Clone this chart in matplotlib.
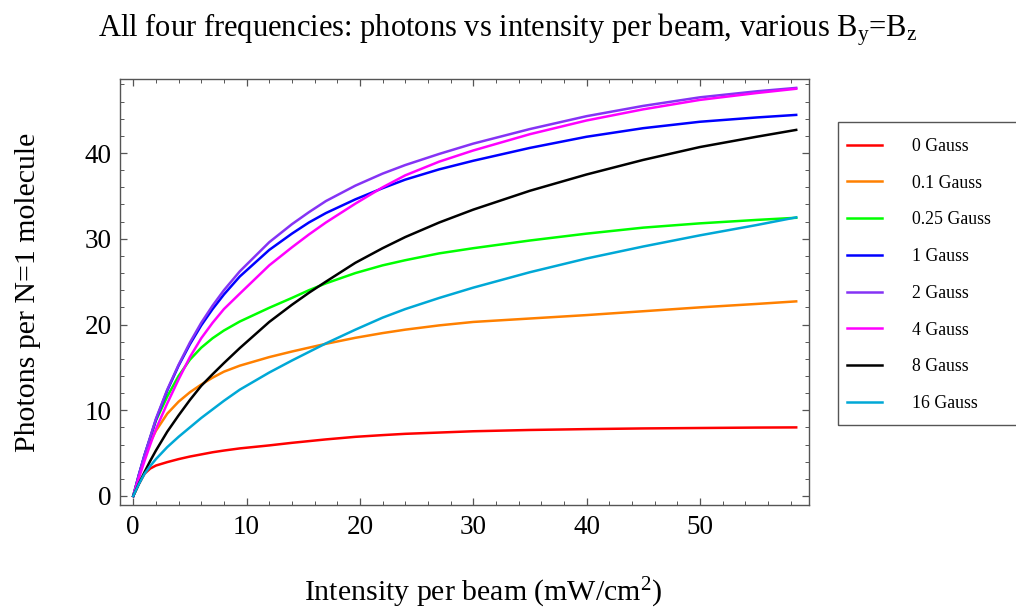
import matplotlib
matplotlib.use("Agg")
from matplotlib import pyplot as plt
from matplotlib.patches import Rectangle

# intensity per beam (mW/cm^2)
intensity = [0, 0.5, 1, 1.5, 2, 3, 4, 5, 6, 7, 8, 9.4, 12, 14, 15.5, 17, 19.6,
             22, 24, 27, 30, 35, 40, 45, 50, 55, 58.5]

# photons per N=1 molecule, one list per field value
g0 = [0, 1.4, 2.6, 3.2, 3.55, 3.95, 4.3, 4.6, 4.85, 5.1, 5.3, 5.55, 5.9, 6.2,
      6.4, 6.6, 6.9, 7.1, 7.25, 7.4, 7.55, 7.7, 7.8, 7.88, 7.93, 7.98, 8.0]
g01 = [0, 2.4, 4.5, 6.3, 7.6, 9.6, 11.0, 12.1, 13.0, 13.8, 14.5, 15.2, 16.2,
       16.85, 17.3, 17.75, 18.45, 19.0, 19.4, 19.9, 20.3, 20.7, 21.1, 21.55,
       22.0, 22.4, 22.7]
g025 = [0, 2.4, 4.7, 6.8, 8.8, 11.6, 14.0, 15.9, 17.3, 18.4, 19.3, 20.35,
        21.95, 23.1, 24.0, 24.8, 26.0, 26.9, 27.5, 28.3, 28.9, 29.8, 30.6, 31.3,
        31.8, 32.2, 32.45]
g1 = [0, 2.5, 4.8, 6.8, 8.9, 12.3, 15.2, 17.7, 19.9, 21.8, 23.5, 25.6, 28.7,
      30.6, 31.9, 33.0, 34.6, 35.9, 36.9, 38.1, 39.1, 40.6, 41.9, 42.9, 43.65,
      44.15, 44.45]
g2 = [0, 2.5, 4.8, 6.9, 9.0, 12.4, 15.3, 17.9, 20.2, 22.2, 24.0, 26.2, 29.6,
      31.7, 33.1, 34.4, 36.2, 37.6, 38.6, 39.9, 41.1, 42.8, 44.3, 45.5, 46.5,
      47.2, 47.6]
g4 = [0, 2.1, 4.1, 6.0, 7.8, 10.8, 13.6, 16.2, 18.4, 20.2, 21.8, 23.6, 26.9,
      29.0, 30.5, 31.9, 34.1, 36.0, 37.4, 39.0, 40.3, 42.2, 43.8, 45.1, 46.2,
      47.0, 47.5]
g8 = [0, 1.45, 2.8, 4.1, 5.3, 7.5, 9.4, 11.2, 12.85, 14.2, 15.5, 17.25, 20.3,
      22.3, 23.7, 25.0, 27.2, 28.9, 30.2, 31.9, 33.4, 35.6, 37.5, 39.2, 40.7,
      41.9, 42.7]
g16 = [0, 1.4, 2.6, 3.5, 4.3, 5.7, 6.9, 8.0, 9.1, 10.1, 11.1, 12.4, 14.4,
       15.8, 16.8, 17.8, 19.4, 20.8, 21.8, 23.1, 24.3, 26.1, 27.7, 29.1, 30.4,
       31.6, 32.5]

labels = ["0 Gauss", "0.1 Gauss", "0.25 Gauss", "1 Gauss", "2 Gauss",
          "4 Gauss", "8 Gauss", "16 Gauss"]
colors = ["#ff0000", "#ff8000", "#00ff00", "#0000ff", "#8533f5",
          "#ff00ff", "#000000", "#00a8d6"]

plt.rcParams["font.family"] = ["Liberation Serif", "DejaVu Serif"]
plt.rcParams["mathtext.default"] = "regular"

fig = plt.figure(figsize=(10.16, 6.13), dpi=100)
ax = fig.add_axes([0.1181, 0.1762, 0.6785, 0.6944])

for ys, lab, c in zip([g0, g01, g025, g1, g2, g4, g8, g16], labels, colors):
    ax.plot(intensity, ys, color=c, lw=1.8, label=lab)

ax.set_xlim(-1.17, 59.66)
ax.set_ylim(-1.05, 48.6)
ax.set_xticks([0, 10, 20, 30, 40, 50])
ax.set_yticks([0, 10, 20, 30, 40])
ax.set_xticks(range(0, 60, 2), minor=True)
ax.set_yticks(range(0, 49, 2), minor=True)
ax.tick_params(which="both", direction="in", top=True, right=True,
               color="#555555", labelsize=19.5)
ax.tick_params(which="major", length=5, width=0.9)
ax.tick_params(which="minor", length=3, width=0.7)
ax.tick_params(axis="x", pad=7)
ax.tick_params(axis="y", pad=6)
for s in ax.spines.values():
    s.set_color("#555555")
    s.set_linewidth(1.0)

ax.set_xlabel("Intensity per beam (mW/cm$^{2}$)", fontsize=21.5, va="center")
ax.xaxis.set_label_coords(0.5266, -0.2067)
ax.set_ylabel("Photons per N=1 molecule", fontsize=21.5, va="center")
ax.yaxis.set_label_coords(-0.1335, 0.5)

fig.suptitle("All four frequencies: photons vs intensity per beam, various B$_{y}$=B$_{z}$",
             fontsize=22, y=0.951, va="center")

handles, labs = ax.get_legend_handles_labels()
fig.legend(handles, labs, loc="upper left", bbox_to_anchor=(838 / 1016, 1 - 129 / 613),
           frameon=False, fontsize=12.8, handlelength=2.0, handletextpad=1.65,
           labelspacing=1.11, borderpad=0.5, borderaxespad=0)
fig.patches.append(Rectangle((838 / 1016, 1 - 425 / 613), 0.2, 303 / 613,
                             transform=fig.transFigure, fill=False,
                             edgecolor="#555555", lw=1.0))

fig.savefig("out.png", dpi=100)
